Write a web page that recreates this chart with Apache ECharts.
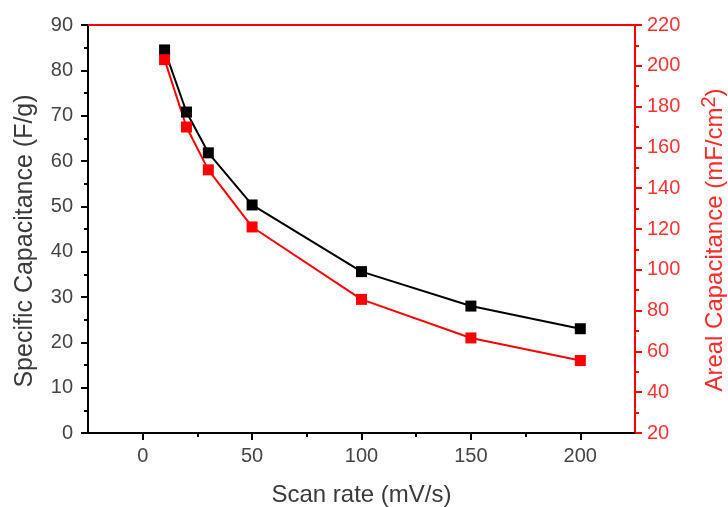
<!DOCTYPE html>
<html><head><meta charset="utf-8">
<script src="https://cdn.jsdelivr.net/npm/echarts@6/dist/echarts.min.js"></script>
<style>html,body{margin:0;padding:0;background:#fff}#c{width:728px;height:507px}</style>
</head><body><div id="c"></div>
<script>
const scanRates = [10, 20, 30, 50, 100, 150, 200];
const specificCap = [84.5, 70.8, 61.8, 50.3, 35.6, 28.0, 23.0];
const arealCap = [203, 170, 149, 121, 85.5, 66.6, 55.5];
const xMajorTicks = [0, 50, 100, 150, 200];
const xMinorTicks = [25, 75, 125, 175];

const font = 'Liberation Sans, Arial, sans-serif';
const chart = echarts.init(document.getElementById('c'));
chart.setOption({
  animation: false,
  backgroundColor: '#fff',
  grid: {left: 88, right: 93, top: 25, bottom: 74, outerBoundsMode: 'none', containLabel: false},
  xAxis: [{
    type: 'value', min: -25, max: 225, interval: 25, position: 'bottom',
    name: 'Scan rate (mV/s)', nameLocation: 'middle', nameGap: 50,
    nameTextStyle: {fontFamily: font, fontSize: 24, color: '#3a3a3a'},
    axisLine: {show: true, onZero: false, lineStyle: {color: '#000', width: 2}},
    axisTick: {show: true, inside: false, length: 7, customValues: xMajorTicks, lineStyle: {color: '#000', width: 2}},
    axisLabel: {fontFamily: font, fontSize: 20, color: '#444', margin: 13, customValues: xMajorTicks},
    splitLine: {show: false}
  }, {
    type: 'value', position: 'top', min: -25, max: 225,
    axisLine: {show: true, onZero: false, lineStyle: {color: '#ff0000', width: 2}},
    axisTick: {show: false}, axisLabel: {show: false}, splitLine: {show: false}
  }, {
    type: 'value', position: 'bottom', min: -25, max: 225, interval: 25,
    axisLine: {show: false, onZero: false},
    axisTick: {show: true, length: 4, customValues: xMinorTicks, lineStyle: {color: '#000', width: 2}},
    axisLabel: {show: false}, splitLine: {show: false}
  }],
  yAxis: [{
    type: 'value', min: 0, max: 90, interval: 10, position: 'left',
    name: 'Specific Capacitance (F/g)', nameLocation: 'middle', nameGap: 50,
    nameTextStyle: {fontFamily: font, fontSize: 25, color: '#3a3a3a', padding: [0, 24, 0, 0]},
    axisLine: {show: true, onZero: false, lineStyle: {color: '#000', width: 2}},
    axisTick: {show: true, length: 7, lineStyle: {color: '#000', width: 2}},
    minorTick: {show: true, splitNumber: 2, length: 4, lineStyle: {color: '#000', width: 2}},
    axisLabel: {fontFamily: font, fontSize: 20, color: '#444', margin: 15},
    splitLine: {show: false}
  }, {
    type: 'value', min: 20, max: 220, interval: 20, position: 'right',
    name: 'Areal Capacitance (mF/cm{sup|2})', nameLocation: 'middle', nameGap: 64, nameRotate: 90,
    nameTextStyle: {fontFamily: font, fontSize: 24, color: '#ff2a2a', padding: [0, 22, 0, 0],
      rich: {sup: {fontFamily: font, fontSize: 20, color: '#ff2a2a', verticalAlign: 'top', padding: [0, 0, 12, 0]}}},
    axisLine: {show: true, onZero: false, lineStyle: {color: '#ff0000', width: 2}},
    axisTick: {show: true, length: 7, lineStyle: {color: '#ff0000', width: 2}},
    minorTick: {show: true, splitNumber: 2, length: 4, lineStyle: {color: '#ff0000', width: 2}},
    axisLabel: {fontFamily: font, fontSize: 20, color: '#ff3333', margin: 12},
    splitLine: {show: false}
  }],
  series: [{
    type: 'line', xAxisIndex: 0, yAxisIndex: 0,
    data: scanRates.map((x, i) => [x, specificCap[i]]),
    symbol: 'rect', symbolSize: 11,
    lineStyle: {color: '#000', width: 2}, itemStyle: {color: '#000'}
  }, {
    type: 'line', xAxisIndex: 0, yAxisIndex: 1,
    data: scanRates.map((x, i) => [x, arealCap[i]]),
    symbol: 'rect', symbolSize: 11,
    lineStyle: {color: '#ff0000', width: 2}, itemStyle: {color: '#ff0000'}
  }]
});
</script></body></html>
